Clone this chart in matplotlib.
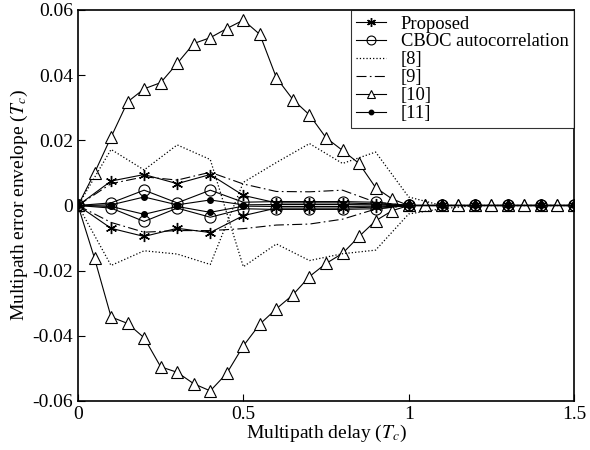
import numpy as np
import matplotlib
matplotlib.use("Agg")
import matplotlib.pyplot as plt

plt.rcParams['font.family'] = ['Liberation Serif', 'DejaVu Serif']
plt.rcParams['mathtext.fontset'] = 'stix'
plt.rcParams['axes.unicode_minus'] = False

# delays (Tc)
d = [0.0, 0.1, 0.2, 0.3, 0.4, 0.5, 0.6, 0.7, 0.8, 0.9, 1.0, 1.1, 1.2, 1.3, 1.4, 1.5]
d_fine = [0.0, 0.05, 0.1, 0.15, 0.2, 0.25, 0.3, 0.35, 0.4, 0.45, 0.5, 0.55, 0.6, 0.65,
          0.7, 0.75, 0.8, 0.85, 0.9, 0.95, 1.0, 1.05, 1.1, 1.15, 1.2, 1.25, 1.3, 1.35,
          1.4, 1.45, 1.5]

# Proposed
prop_up = [0, 0.0075, 0.0095, 0.0067, 0.0095, 0.0031, 0.0008, 0.0008, 0.0008, 0.0005, 0, 0, 0, 0, 0, 0]
prop_lo = [0, -0.0070, -0.0095, -0.0070, -0.0083, -0.0031, -0.0008, -0.0008, -0.0008, -0.0005, 0, 0, 0, 0, 0, 0]
# CBOC autocorrelation
cboc_up = [0, 0.0008, 0.0047, 0.0008, 0.0047, 0.0010, 0.0012, 0.0012, 0.0012, 0.0010, 0, 0, 0, 0, 0, 0]
cboc_lo = [0, -0.0008, -0.0049, -0.0008, -0.0036, -0.0010, -0.0012, -0.0012, -0.0012, -0.0010, 0, 0, 0, 0, 0, 0]
# [8]
r8_a = [0, 0.0172, 0.0109, 0.0186, 0.0141, -0.0188, -0.0118, -0.0169, -0.0148, -0.0137, -0.0026, -0.0010, 0, 0, 0, 0]
r8_b = [0, -0.0184, -0.0139, -0.0149, -0.0181, 0.0071, 0.0132, 0.0190, 0.0129, 0.0164, 0.0026, 0, 0, 0, 0, 0]
# [9]
r9_up = [0, 0.0067, 0.0088, 0.0078, 0.0102, 0.0066, 0.0043, 0.0042, 0.0047, 0.0010, 0, 0, 0, 0, 0, 0]
r9_lo = [0, -0.0052, -0.0082, -0.0077, -0.0077, -0.0071, -0.0060, -0.0057, -0.0042, -0.0011, 0, 0, 0, 0, 0, 0]
# [10]
r10_up = [0, 0.010, 0.021, 0.0318, 0.0358, 0.0377, 0.0436, 0.0497, 0.0515, 0.0543, 0.0569, 0.0525,
          0.0392, 0.0325, 0.0278, 0.0208, 0.0169, 0.0129, 0.0055, 0.002, 0,
          0, 0, 0, 0, 0, 0, 0, 0, 0, 0]
r10_lo = [0, -0.0162, -0.0342, -0.0362, -0.0406, -0.0495, -0.0512, -0.0547, -0.0569, -0.0515, -0.0431,
          -0.0364, -0.0317, -0.0274, -0.0218, -0.0178, -0.0147, -0.0095, -0.0047, -0.0016, 0,
          0, 0, 0, 0, 0, 0, 0, 0, 0, 0]
# [11]
r11_up = [0, 0.0002, 0.0026, 0.0002, 0.0017, 0.0002, 0.0003, 0.0003, 0.0003, 0.0002, 0, 0, 0, 0, 0, 0]
r11_lo = [0, -0.0003, -0.0027, -0.0003, -0.0021, -0.0002, -0.0003, -0.0003, -0.0003, -0.0002, 0, 0, 0, 0, 0, 0]

fig = plt.figure(figsize=(5.9, 4.5), dpi=100)
ax = fig.add_axes([0.1322, 0.1089, 0.8407, 0.8689])

lw = 0.8
k = 'black'
star = (6, 2, 0)
ax.plot(d_fine, r10_up, '-', color=k, lw=lw, marker='^', ms=8, mfc='white', mec=k, mew=0.8, label='[10]')
ax.plot(d_fine, r10_lo, '-', color=k, lw=lw, marker='^', ms=8, mfc='white', mec=k, mew=0.8)
ax.plot(d, r8_a, ':', color=k, lw=0.9, label='[8]')
ax.plot(d, r8_b, ':', color=k, lw=0.9)
ax.plot(d, r9_up, color=k, lw=lw, dashes=(9, 3, 1.5, 3), label='[9]')
ax.plot(d, r9_lo, color=k, lw=lw, dashes=(9, 3, 1.5, 3))
ax.plot(d, cboc_up, '-', color=k, lw=lw, marker='o', ms=8, mfc='none', mec=k, mew=0.8, label='CBOC autocorrelation')
ax.plot(d, cboc_lo, '-', color=k, lw=lw, marker='o', ms=8, mfc='none', mec=k, mew=0.8)
ax.plot(d, r11_up, '-', color=k, lw=lw, marker='o', ms=4, mfc=k, mec=k, label='[11]')
ax.plot(d, r11_lo, '-', color=k, lw=lw, marker='o', ms=4, mfc=k, mec=k)
ax.plot(d, prop_up, '-', color=k, lw=lw, marker=star, ms=8, mfc=k, mec=k, mew=1.0, label='Proposed')
ax.plot(d, prop_lo, '-', color=k, lw=lw, marker=star, ms=8, mfc=k, mec=k, mew=1.0)

ax.set_xlim(0, 1.5)
ax.set_ylim(-0.06, 0.06)
ax.set_xticks([0, 0.5, 1, 1.5])
ax.set_xticklabels(['0', '0.5', '1', '1.5'])
ax.set_yticks([-0.06, -0.04, -0.02, 0, 0.02, 0.04, 0.06])
ax.set_yticklabels(['-0.06', '-0.04', '-0.02', '0', '0.02', '0.04', '0.06'])
ax.tick_params(direction='in', labelsize=14, length=5, width=0.8, top=False, right=False)
for s in ax.spines.values():
    s.set_linewidth(1.2)
ax.set_xlabel('Multipath delay ($T_c$)', fontsize=14, labelpad=0)
ax.set_ylabel('Multipath error envelope ($T_c$)', fontsize=14, labelpad=2)

h, l = ax.get_legend_handles_labels()
order = ['Proposed', 'CBOC autocorrelation', '[8]', '[9]', '[10]', '[11]']
hh = [h[l.index(o)] for o in order]
leg = ax.legend(hh, order, loc='upper right', fontsize=13.3, frameon=True, fancybox=False,
                edgecolor='black', borderaxespad=0, labelspacing=0.05, handlelength=1.6,
                handletextpad=0.8, borderpad=0.3, markerscale=0.8)
leg.get_frame().set_linewidth(0.8)

fig.savefig('out.png', dpi=100)
